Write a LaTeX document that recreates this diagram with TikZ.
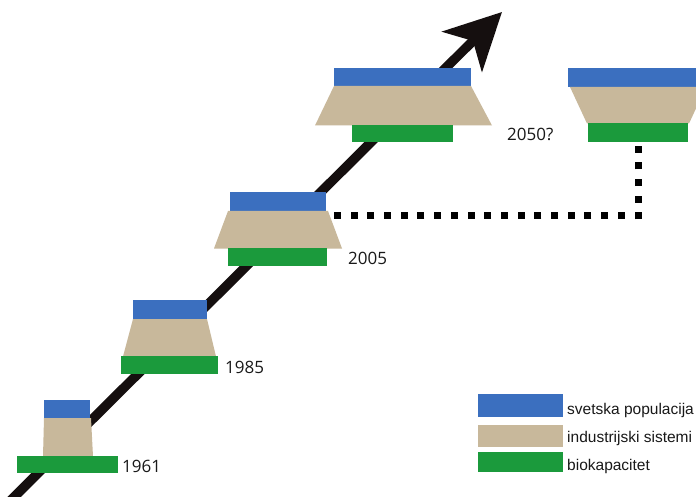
\documentclass[tikz,border=0pt]{standalone}
\usepackage{fontspec}
\setmainfont{Open Sans}
\newfontfamily\legendfont{Liberation Sans}
\usetikzlibrary{arrows.meta}
\definecolor{popblue}{HTML}{3B6FBF}
\definecolor{indtan}{HTML}{C8B89B}
\definecolor{biogreen}{HTML}{1B9A3C}
\definecolor{trend}{HTML}{150F0F}
\begin{document}
\begin{tikzpicture}[x=1pt,y=-1pt,
  bar/.style={rectangle, inner sep=0pt, outer sep=0pt, draw=none},
  popbar/.style={bar, fill=popblue},
  indbar/.style={bar, fill=indtan},
  biobar/.style={bar, fill=biogreen},
  indfill/.style={fill=indtan},
  year/.style={anchor=base west, inner sep=0pt, font=\fontsize{17}{20}\selectfont, text=black!90},
  legtext/.style={anchor=base west, inner sep=0pt, font=\legendfont\fontsize{15.5}{18}\selectfont, text=black!90},
  trendline/.style={draw=trend, line width=9.5pt, -{Stealth[length=56pt,width=56pt,inset=15pt]}},
  dotline/.style={draw=black, line width=7pt, dash pattern=on 7pt off 9.7pt}
]
\useasboundingbox (0,0) rectangle (696,497);
\clip (0,0) rectangle (696,497);
\fill[white] (0,0) rectangle (696,497);

% growth arrow, behind the stacks
\coordinate (tail) at (5,506);
\coordinate (tip) at (502,12);
\draw[trendline] (tail) -- (tip);

% 1961
\node[popbar, minimum width=46pt, minimum height=18pt] (p61) at (67,409) {};
\fill[indfill] (44,418) -- (91,418) -- (93,456.5) -- (43,456.5) -- cycle;
\node[biobar, minimum width=101pt, minimum height=17pt] (g61) at (67.5,464.5) {};
\node[year] (y61) at (122,472) {1961};

% 1985
\node[popbar, minimum width=74pt, minimum height=19pt] (p85) at (170,309.5) {};
\fill[indfill] (133,319) -- (207,319) -- (216,356.5) -- (123,356.5) -- cycle;
\node[biobar, minimum width=97pt, minimum height=18pt] (g85) at (169.5,365) {};
\node[year] (y85) at (225,373) {1985};

% 2005
\node[popbar, minimum width=96pt, minimum height=19pt] (p05) at (278,201.5) {};
\fill[indfill] (228,211) -- (328,211) -- (342,248.5) -- (214,248.5) -- cycle;
\node[biobar, minimum width=99pt, minimum height=18pt] (g05) at (277.5,257) {};
\node[year] (y05) at (348,265) {2005};

% 2050, on the current trend
\node[popbar, minimum width=137pt, minimum height=18pt] (p50) at (402.5,77) {};
\fill[indfill] (334,86) -- (471,86) -- (492,125.5) -- (315,125.5) -- cycle;
\node[biobar, minimum width=101pt, minimum height=17pt] (g50) at (402.5,133.5) {};
\node[year] (y50) at (507,141) {2050?};

% 2050, alternative
\node[popbar, minimum width=140pt, minimum height=19pt] (p50r) at (638,77.5) {};
\fill[indfill] (570,87) -- (706,87) -- (689,123.5) -- (587,123.5) -- cycle;
\node[biobar, minimum width=100pt, minimum height=19pt] (g50r) at (638,132.5) {};

% dotted link from 2005 to the alternative
\coordinate (dot0) at (333,216);
\coordinate (bend) at (g50r.south |- dot0);
\draw[dotline] ([xshift=3.5pt]bend) -- (dot0);
\draw[dotline] ([yshift=-3.5pt]bend) -- ([yshift=-4.5pt]g50r.south);

% legend
\node[popbar, minimum width=85pt, minimum height=23pt] (lp) at (520.5,405.5) {};
\node[indbar, minimum width=85pt, minimum height=22pt] (li) at (520.5,436) {};
\node[biobar, minimum width=85pt, minimum height=20pt] (lb) at (520.5,462) {};
\node[legtext] (tp) at (567,414) {svetska populacija};
\node[legtext] (ti) at (567,442) {industrijski sistemi};
\node[legtext] (tb) at (567,470) {biokapacitet};
\end{tikzpicture}
\end{document}
